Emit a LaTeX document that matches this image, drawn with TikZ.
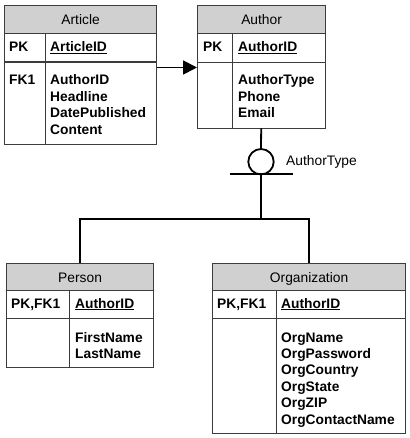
\documentclass[tikz,border=0pt]{standalone}
\usepackage{fontspec}
\setmainfont{Liberation Sans}
\usetikzlibrary{arrows.meta}
\definecolor{hdrgray}{RGB}{208,208,208}
\definecolor{boxline}{RGB}{60,60,60}
\begin{document}
\begin{tikzpicture}[x=1pt,y=-1pt,
  font=\fontsize{13.8}{16}\selectfont,
  cell/.style 2 args={draw=boxline, line width=1.2pt, inner sep=0pt, anchor=north west, minimum width=#1, minimum height=#2},
  outline/.style 2 args={inner sep=0pt, anchor=north west, minimum width=#1, minimum height=#2},
  hdr/.style={fill=hdrgray, text height=10pt, text depth=0pt},
  txt/.style={anchor=base west, inner sep=0pt, font=\fontsize{13.8}{16}\selectfont\bfseries},
  conn/.style={line width=1.8pt, draw=black}]
\useasboundingbox (0,0) rectangle (409,438);

% ---------- Article ----------
\node[outline={152pt}{139pt}] (article) at (4,5) {};
\node[cell={152pt}{28pt}, hdr] (artH) at (4,5) {Article};
\node[cell={41pt}{28.5pt}] (artPL) at (4,33) {};
\node[cell={111pt}{28.5pt}] (artPR) at (45,33) {};
\node[cell={41pt}{82.5pt}] (artBL) at (4,61.5) {};
\node[cell={111pt}{82.5pt}] (artBR) at (45,61.5) {};
\node[txt] (artPK) at (9,52) {PK};
\node[txt] (artID) at (50,52) {\underline{ArticleID}};
\node[txt] (artFK) at (9,85) {FK1};
\node[txt] (artB1) at (50,85) {AuthorID};
\node[txt] (artB2) at (50,101.4) {Headline};
\node[txt] (artB3) at (50,117.8) {DatePublished};
\node[txt] (artB4) at (50,134.2) {Content};

% ---------- Author ----------
\node[outline={128pt}{123pt}] (author) at (197,5) {};
\node[cell={128pt}{28pt}, hdr] (autH) at (197,5) {Author};
\node[cell={35pt}{29pt}] (autPL) at (197,33) {};
\node[cell={93pt}{29pt}] (autPR) at (232,33) {};
\node[cell={35pt}{66pt}] (autBL) at (197,62) {};
\node[cell={93pt}{66pt}] (autBR) at (232,62) {};
\node[txt] (autPK) at (203,52) {PK};
\node[txt] (autID) at (238,52) {\underline{AuthorID}};
\node[txt] (autB1) at (238,85) {AuthorType};
\node[txt] (autB2) at (238,101.4) {Phone};
\node[txt] (autB3) at (238,117.8) {Email};

% ---------- Person ----------
\node[outline={147pt}{104pt}] (person) at (6,263) {};
\node[cell={147pt}{27pt}, hdr] (perH) at (6,263) {Person};
\node[cell={63pt}{28pt}] (perPL) at (6,290) {};
\node[cell={84pt}{28pt}] (perPR) at (69,290) {};
\node[cell={63pt}{49pt}] (perBL) at (6,318) {};
\node[cell={84pt}{49pt}] (perBR) at (69,318) {};
\node[txt] (perPK) at (11,308) {PK,FK1};
\node[txt] (perID) at (75,308) {\underline{AuthorID}};
\node[txt] (perB1) at (75,342) {FirstName};
\node[txt] (perB2) at (75,358.4) {LastName};

% ---------- Organization ----------
\node[outline={193pt}{170pt}] (org) at (212,263) {};
\node[cell={193pt}{27pt}, hdr] (orgH) at (212,263) {Organization};
\node[cell={64pt}{28pt}] (orgPL) at (212,290) {};
\node[cell={129pt}{28pt}] (orgPR) at (276,290) {};
\node[cell={64pt}{115pt}] (orgBL) at (212,318) {};
\node[cell={129pt}{115pt}] (orgBR) at (276,318) {};
\node[txt] (orgPK) at (217,308) {PK,FK1};
\node[txt] (orgID) at (281,308) {\underline{AuthorID}};
\node[txt] (orgB1) at (281,342) {OrgName};
\node[txt] (orgB2) at (281,358.4) {OrgPassword};
\node[txt] (orgB3) at (281,374.8) {OrgCountry};
\node[txt] (orgB4) at (281,391.2) {OrgState};
\node[txt] (orgB5) at (281,407.6) {OrgZIP};
\node[txt] (orgB6) at (281,424) {OrgContactName};

% ---------- Connectors ----------
\draw[conn, -{Triangle[length=14pt, width=14pt]}]
  ([yshift=-6pt]artBR.north east) -- ([yshift=-6pt]artBR.north east -| autBL.west);

\node[circle, conn, minimum size=25.4pt, inner sep=0pt] (circ) at (261,161.7) {};
\node[anchor=west, inner sep=0pt] (atlabel) at (286,162) {AuthorType};
\coordinate (barL) at (230,174.4);
\coordinate (barR) at (293,174.4);
\coordinate (junction) at (261,218.7);
\draw[conn] (author.south) -- (circ.north);
\draw[conn] (barL) -- (barR);
\draw[conn] (circ.south) -- (junction);
\draw[conn] (person.north) |- (junction) -| (org.north);
\end{tikzpicture}
\end{document}
